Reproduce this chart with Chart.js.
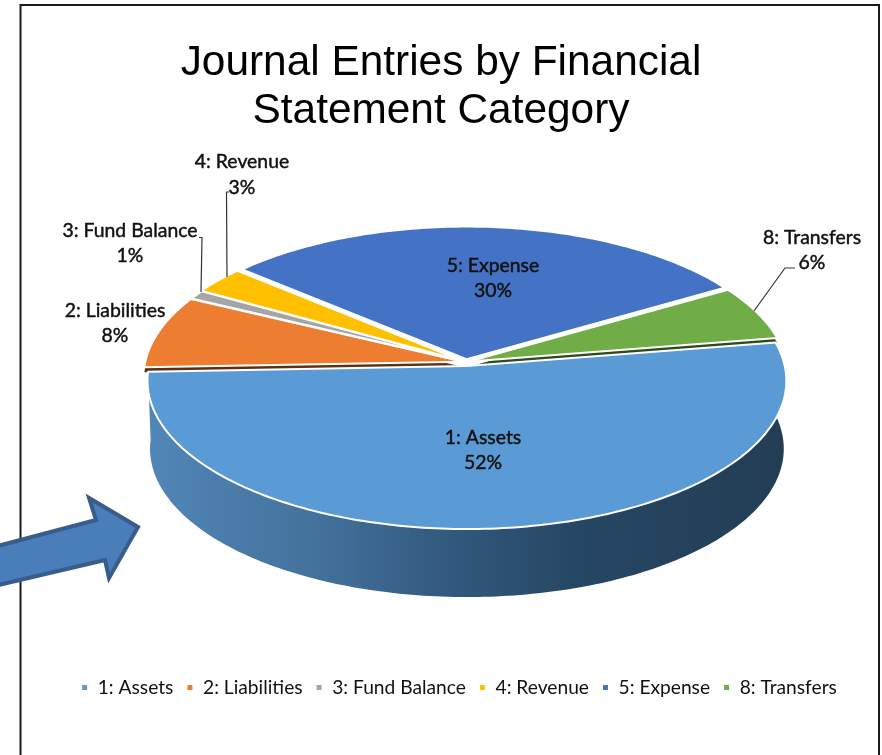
<!DOCTYPE html>
<html><head><meta charset="utf-8">
<style>html,body{margin:0;padding:0;background:#fff}canvas{display:block}</style>
<script src="https://cdn.jsdelivr.net/npm/chart.js@4"></script>
</head><body>
<canvas id="c" width="882" height="755"></canvas>
<script>
const titleLines = ["Journal Entries by Financial", "Statement Category"];
const categories = ["1: Assets", "2: Liabilities", "3: Fund Balance", "4: Revenue", "5: Expense", "8: Transfers"];
const shares = [52, 8, 1, 3, 30, 6];
const sliceColors = ["#5b9bd5", "#ed7d31", "#a5a5a5", "#ffc000", "#4472c4", "#70ad47"];
const wallColors = ["#2f5478", "#5e2f10", "#555555", "#7a5c00", "#203864", "#2f4a1c"];

// page layout only
const LABEL_FONT = '19.4px Lato, sans-serif';
const labelSpots = [[483,438,463],[115,311,336],[130,231,256],[242,162,188],[493,266,291],[812,238,263]];
const leaders = [
  [[199,237.5],[202,237.5],[201,292]],
  [[229,192],[226.5,192],[227,277]],
  [[795,268],[785,268],[754,311]]
];
const arrow = [[138,527],[89,498],[96,520],[-6,547],[-6,586],[105,560],[109,578]];
const explodeBy = [0.028, 0.012, 0.012, 0.016, 0.02, 0.012];
const cutWalls = [1, 5];
const P = {cx:466, cy:362, a:317, b:146.1, k:-0.0983, depth:68, inset:0.992};

function project(theta, mid, e){
  const u = Math.cos(theta) + e*Math.cos(mid);
  const v = Math.sin(theta) + e*Math.sin(mid);
  const w = 1 + P.k*v;
  return [P.cx + P.a*u/w, P.cy + P.b*v/w];
}
function apex(mid, e){
  const u = e*Math.cos(mid), v = e*Math.sin(mid), w = 1+P.k*v;
  return [P.cx + P.a*u/w, P.cy + P.b*v/w];
}
function rim(arc, e){
  const s = arc.startAngle, t = arc.endAngle, mid = (s+t)/2, pts = [];
  const n = Math.max(2, Math.ceil((t-s)/(Math.PI/180)));
  for(let i=0;i<=n;i++) pts.push(project(s+(t-s)*i/n, mid, e));
  return {pts, mid};
}
function facePath(ctx, arc, e, dy){
  const {pts, mid} = rim(arc, e), c = apex(mid, e);
  ctx.beginPath();
  ctx.moveTo(c[0], c[1]+dy);
  pts.forEach(p=>ctx.lineTo(p[0], p[1]+dy));
  ctx.closePath();
}
const pie3d = {
  id:'pie3d',
  beforeDraw(chart){
    const ctx = chart.ctx;
    ctx.save();
    ctx.fillStyle='#fff'; ctx.fillRect(0,0,882,755);
    ctx.strokeStyle='#1a1a1a'; ctx.lineWidth=2;
    ctx.beginPath(); ctx.moveTo(20.5,755); ctx.lineTo(20.5,5); ctx.lineTo(879,5); ctx.lineTo(879,755); ctx.stroke();
    ctx.restore();
  },
  afterLayout(chart){
    const l = chart.legend;
    if(l){ l.left += 18; l.right += 18; l.top = 665; l.height = 44; l.bottom = 709; }
  },
  beforeDatasetsDraw(chart){
    const ctx = chart.ctx, arcs = chart.getDatasetMeta(0).data;
    ctx.save();
    const r0 = rim(arcs[0], explodeBy[0]);
    const g = ctx.createLinearGradient(148,0,784,0);
    g.addColorStop(0,'#5186b8'); g.addColorStop(0.25,'#44739d');
    g.addColorStop(0.5,'#30567a'); g.addColorStop(0.68,'#264763'); g.addColorStop(1,'#233d55');
    ctx.fillStyle = g;
    ctx.beginPath();
    r0.pts.forEach((p,i)=> i?ctx.lineTo(p[0],p[1]):ctx.moveTo(p[0],p[1]));
    r0.pts.slice().reverse().forEach(p=>ctx.lineTo(P.cx+(p[0]-P.cx)*P.inset, p[1]+P.depth));
    ctx.closePath(); ctx.fill();
    cutWalls.forEach(i=>{
      facePath(ctx, arcs[i], explodeBy[i], 5); ctx.fillStyle = wallColors[i]; ctx.fill();
    });
    ctx.lineJoin='round'; ctx.strokeStyle='#fff'; ctx.lineWidth=2;
    for(let i=1;i<arcs.length;i++){
      facePath(ctx, arcs[i], explodeBy[i], 0); ctx.fillStyle = sliceColors[i]; ctx.fill(); ctx.stroke();
    }
    facePath(ctx, arcs[0], explodeBy[0], 0); ctx.fillStyle = sliceColors[0]; ctx.fill(); ctx.stroke();
    ctx.restore();
    return false;
  },
  afterDraw(chart){
    const ctx = chart.ctx, total = shares.reduce((a,b)=>a+b,0);
    ctx.save();
    ctx.strokeStyle='#333'; ctx.lineWidth=1.2;
    leaders.forEach(l=>{ctx.beginPath(); l.forEach((p,i)=> i?ctx.lineTo(p[0],p[1]):ctx.moveTo(p[0],p[1])); ctx.stroke();});
    ctx.fillStyle='#111'; ctx.strokeStyle='#111'; ctx.lineWidth=0.45; ctx.lineJoin='round';
    ctx.font=LABEL_FONT; ctx.textAlign='center'; ctx.textBaseline='middle';
    categories.forEach((name,i)=>{
      const s = labelSpots[i], pct = Math.round(shares[i]/total*100)+'%';
      ctx.fillText(name, s[0], s[1]); ctx.strokeText(name, s[0], s[1]);
      ctx.fillText(pct, s[0], s[2]); ctx.strokeText(pct, s[0], s[2]);
    });
    ctx.beginPath(); arrow.forEach((p,i)=> i?ctx.lineTo(p[0],p[1]):ctx.moveTo(p[0],p[1])); ctx.closePath();
    ctx.fillStyle='#4a7ebb'; ctx.fill();
    ctx.strokeStyle='#385d8a'; ctx.lineWidth=4; ctx.lineJoin='miter'; ctx.stroke();
    ctx.restore();
  }
};
new Chart(document.getElementById('c'), {
  type:'pie',
  data:{labels:categories, datasets:[{data:shares, backgroundColor:sliceColors, borderColor:'#fff', borderWidth:2}]},
  plugins:[pie3d],
  options:{
    responsive:false, animation:false,
    rotation:80.6,
    layout:{padding:0},
    plugins:{
      tooltip:{enabled:false},
      title:{display:true, text:titleLines, color:'#000',
        font:{family:'"Liberation Sans", Arial, sans-serif', size:42.4, weight:'normal', lineHeight:1.132},
        padding:{top:39.5,bottom:0}},
      legend:{display:true, position:'bottom',
        labels:{boxWidth:7, boxHeight:7, padding:13, color:'#111',
          font:{family:'Lato, sans-serif', size:19.2}}}
    }
  }
});
</script>
</body></html>
